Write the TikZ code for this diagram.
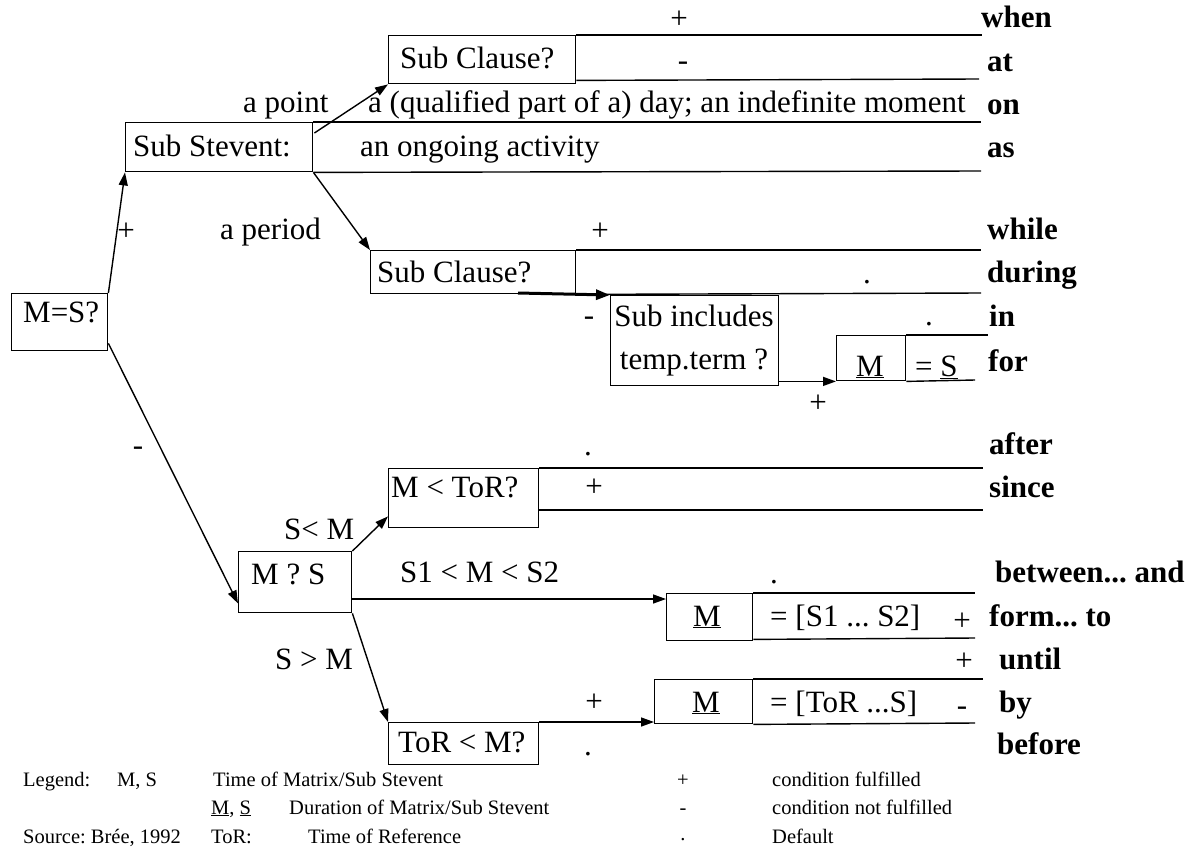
\documentclass[tikz,border=0pt]{standalone}
\usepackage{fontspec}
\setmainfont{Liberation Serif}
\usetikzlibrary{arrows.meta,calc}
\frenchspacing
\begin{document}
\begin{tikzpicture}[x=1pt,y=-1pt,
  every node/.style={font=\fontsize{31}{36}\selectfont},
  t/.style={anchor=base west, inner sep=0pt},
  s/.style={anchor=base, inner sep=0pt},
  bw/.style={anchor=base west, inner sep=0pt, font=\fontsize{31}{36}\selectfont\bfseries},
  lg/.style={anchor=base west, inner sep=0pt, font=\fontsize{20.5}{24}\selectfont},
  lgs/.style={anchor=base, inner sep=0pt, font=\fontsize{20.5}{24}\selectfont},
  bx/.style={draw, line width=1.4pt, inner sep=0pt, anchor=north west},
  rule/.style={line width=1.4pt},
  arr/.style={line width=1.4pt, -{Triangle[length=13pt,width=9pt]}},
]
\useasboundingbox (0,0) rectangle (1188,849);

% boxes
\node[bx, minimum width=187pt, minimum height=48pt] (sc1) at (388,35) {};
\node[bx, minimum width=187pt, minimum height=49pt] (ss) at (125,122) {};
\node[bx, minimum width=205pt, minimum height=43pt] (sc2) at (370,250) {};
\node[bx, minimum width=168pt, minimum height=90pt] (si) at (610,295) {};
\node[bx, minimum width=69pt, minimum height=45pt] (mb1) at (836,335) {};
\node[bx, minimum width=96pt, minimum height=57pt] (mes) at (11,293) {};
\node[bx, minimum width=150pt, minimum height=59pt] (mtor) at (388,468) {};
\node[bx, minimum width=113pt, minimum height=61pt] (msq) at (238,551) {};
\node[bx, minimum width=86pt, minimum height=47pt] (mb2) at (666,593) {};
\node[bx, minimum width=98pt, minimum height=44pt] (mb3) at (654,679) {};
\node[bx, minimum width=150pt, minimum height=42pt] (tor) at (388,722) {};

% rules
\draw[rule] (sc1.north east) -- (982,35);
\draw[rule] ($(sc1.south east)+(0,-4)$) -- (979,79);
\draw[rule] (ss.north east) -- (981,122);
\draw[rule] (ss.south east) -- (981,171);
\draw[rule] (sc2.north east) -- (981,250);
\draw[rule] (sc2.south east) -- (981,293);
\draw[rule] (mb1.north east) -- (988,335);
\draw[rule] (mb1.south east) -- (975,380);
\draw[rule] (mtor.north east) -- (983,468);
\draw[rule] ($(mtor.north east)+(0,42)$) -- (983,510);
\draw[rule] (mb2.north east) -- (975,593);
\draw[rule] ($(mb2.south east)+(0,-2)$) -- (975,638);
\draw[rule] (mb3.north east) -- (983,679);
\draw[rule] (mb3.south east) -- (975,723);

% arrows
\draw[arr] (mes.north east) -- (ss.south west);
\draw[arr] ($(ss.north east)+(1,11)$) -- (sc1.south west);
\draw[arr] (ss.south east) -- (sc2.north west);
\coordinate (th) at (518,293);
\draw[line width=3pt, -{Triangle[length=14pt,width=10pt]}] (th) -- (si.north west);
\draw[arr] (si.east |- mb1.south) -- (mb1.south west);
\draw[arr] ($(mes.south east)+(0,-8)$) -- ($(msq.south west)+(0,-10)$);
\draw[arr] (msq.north east) -- ($(mtor.south west)+(0,-12)$);
\coordinate (p1) at ($(msq.north east)+(0,48)$);
\draw[arr] (p1) -- (p1 -| mb2.west);
\draw[arr] (msq.south east) -- (tor.north west);
\draw[arr] (tor.north east) -- (tor.north east -| mb3.west);

% right column words
\node[bw] (w1) at (981,27) {when};
\node[bw] (w2) at (987,71) {at};
\node[bw] (w3) at (987,114) {on};
\node[bw] (w4) at (987,157) {as};
\node[bw] (w5) at (987,239) {while};
\node[bw] (w6) at (987,282) {during};
\node[bw] (w7) at (989,326) {in};
\node[bw] (w8) at (988,371) {for};
\node[bw] (w9) at (989,454) {after};
\node[bw] (w10) at (989,497) {since};
\node[bw] (w11) at (995,582) {between... and};
\node[bw] (w12) at (989,626) {form... to};
\node[bw] (w13) at (999,669) {until};
\node[bw] (w14) at (999,712) {by};
\node[bw] (w15) at (997,754) {before};

% box texts and labels
\node[t] (t1) at (400,68) {Sub Clause?};
\node[t] (t2) at (243,112) {a point};
\node[t] (t3) at (368,112) {a (qualified part of a) day; an indefinite moment};
\node[t] (t4) at (133,156) {Sub Stevent:};
\node[t] (t5) at (360,156) {an ongoing activity};
\node[t] (t6) at (220,239) {a period};
\node[t] (t7) at (377,282) {Sub Clause?};
\node[s] (t8) at (694,326) {Sub includes};
\node[s] (t9) at (694,369) {temp.term ?};
\node[s] (t10) at (870,376) {\underline{M}};
\node[t] (t11) at (915,376) {= \underline{S}};
\node[t] (t12) at (391,497) {M < ToR?};
\node[t] (t13) at (23,322) {M=S?};
\node[t] (t14) at (284,539) {S< M};
\node[t] (t15) at (251,584) {M ? S};
\node[t] (t16) at (400,582) {S1 < M < S2};
\node[s] (t17) at (707,626) {\underline{M}};
\node[t] (t18) at (770,626) {= [S1 ... S2]};
\node[t] (t19) at (275,669) {S > M};
\node[s] (t20) at (706,712) {\underline{M}};
\node[t] (t21) at (770,712) {= [ToR ...S]};
\node[t] (t22) at (398,752) {ToR < M?};

% condition marks
\node[s] (c1) at (679,28) {+};
\node[s] (c2) at (683,70) {-};
\node[s] (c3) at (126,240) {+};
\node[s] (c4) at (600,240) {+};
\node[s] (c5) at (867,283) {.};
\node[s] (c6) at (589,325) {-};
\node[s] (c7) at (929,325) {.};
\node[s] (c8) at (818,412) {+};
\node[s] (c9) at (588,455) {.};
\node[s] (c10) at (594,496) {+};
\node[s] (c11) at (138,455) {-};
\node[s] (c12) at (774,583) {.};
\node[s] (c13) at (962,630) {+};
\node[s] (c14) at (964,670) {+};
\node[s] (c15) at (594,711) {+};
\node[s] (c16) at (962,715) {-};
\node[s] (c17) at (588,755) {.};

% legend
\node[lg] (l1) at (23,786) {Legend:};
\node[lg] (l2) at (117,786) {M, S};
\node[lg] (l3) at (213,786) {Time of Matrix/Sub Stevent};
\node[lg] (l4) at (211,814) {\underline{M}, \underline{S}};
\node[lg] (l5) at (289,814) {Duration of Matrix/Sub Stevent};
\node[lg] (l6) at (23,843) {Source: Brée, 1992};
\node[lg] (l7) at (211,843) {ToR:};
\node[lg] (l8) at (308,843) {Time of Reference};
\node[lgs] (l9) at (683,786) {+};
\node[lgs] (l10) at (683,814) {-};
\node[lgs] (l11) at (683,840) {.};
\node[lg] (l12) at (772,786) {condition fulfilled};
\node[lg] (l13) at (772,814) {condition not fulfilled};
\node[lg] (l14) at (772,843) {Default};
\end{tikzpicture}
\end{document}
